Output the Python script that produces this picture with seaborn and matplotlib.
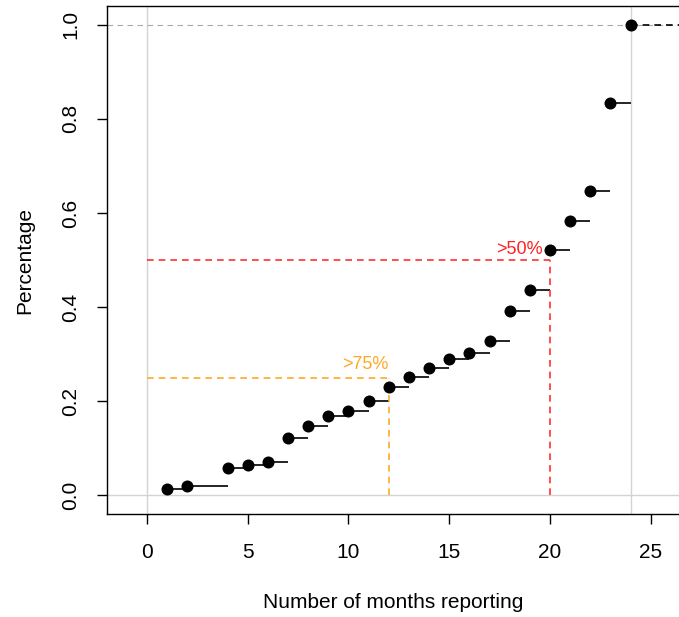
import numpy as np
import pandas as pd
import matplotlib
matplotlib.use('Agg')
import matplotlib.pyplot as plt
import seaborn as sns

# data
months = [1, 2, 4, 5, 6, 7, 8, 9, 10, 11, 12, 13, 14, 15, 16, 17, 18, 19, 20, 21, 22, 23, 24]
percentage = [0.013, 0.019, 0.057, 0.064, 0.070, 0.121, 0.147, 0.168, 0.179, 0.200,
              0.230, 0.251, 0.270, 0.289, 0.302, 0.328, 0.391, 0.436, 0.521, 0.583,
              0.647, 0.834, 1.000]
x_ticks = [0, 5, 10, 15, 20, 25]
y_ticks = [0.0, 0.2, 0.4, 0.6, 0.8, 1.0]

df = pd.DataFrame({'months': months, 'pct': percentage})

sns.set_style('white')
plt.rcParams['font.family'] = ['Liberation Sans', 'DejaVu Sans']
plt.rcParams['text.color'] = 'black'
plt.rcParams['axes.labelcolor'] = 'black'
plt.rcParams['xtick.color'] = 'black'
plt.rcParams['ytick.color'] = 'black'

fig = plt.figure(figsize=(6.79, 6.17), dpi=100)
ax = fig.add_axes([107 / 679, 1 - 514 / 617, 1 - 107 / 679, 508 / 617])

# reference lines
ax.axvline(0, color='lightgray', lw=1, zorder=0)
ax.axvline(24, color='lightgray', lw=1, zorder=0)
ax.axhline(0, color='lightgray', lw=1, zorder=0)
ax.axhline(1, color='darkgray', lw=0.8, ls=(0, (5, 4)), zorder=0)

# step segments
x_next = months[1:] + [27]
ax.hlines(percentage[:-1], months[:-1], x_next[:-1], color='black', lw=1.2, zorder=2)
ax.hlines(percentage[-1], months[-1], x_next[-1], color='black', lw=1.2,
          linestyles=(0, (4, 3)), zorder=2)

sns.scatterplot(data=df, x='months', y='pct', ax=ax, color='black', s=75,
                edgecolor='black', linewidth=0, zorder=3, legend=False)

# threshold lines
ax.plot([0, 20], [0.5, 0.5], color='#FF3030', ls=(0, (4, 3)), lw=1.2)
ax.plot([20, 20], [0, 0.5], color='#FF3030', ls=(0, (4, 3)), lw=1.2)
ax.plot([0, 12], [0.25, 0.25], color='#FFA826', ls=(0, (4, 3)), lw=1.2)
ax.plot([12, 12], [0, 0.25], color='#FFA826', ls=(0, (4, 3)), lw=1.2)
ax.text(19.65, 0.505, '>50%', color='#FF2020', ha='right', va='bottom', fontsize=13)
ax.text(12.0, 0.26, '>75%', color='#FFA826', ha='right', va='bottom', fontsize=13)

ax.set_xlim(-1.98, 26.4)
ax.set_ylim(-0.04, 1.04)
ax.set_xticks(x_ticks)
ax.set_yticks(y_ticks)
ax.set_yticklabels([f'{v:.1f}' for v in y_ticks], rotation=90, va='center')
ax.tick_params(direction='out', length=7, width=1, color='black', labelsize=15,
               bottom=True, left=True, top=False, right=False)
ax.tick_params(axis='x', pad=14)
ax.tick_params(axis='y', pad=12)

for side in ['left', 'bottom', 'top']:
    ax.spines[side].set_color('black')
    ax.spines[side].set_linewidth(1)
ax.spines['right'].set_visible(False)

ax.set_xlabel('Number of months reporting', fontsize=15, labelpad=22)
ax.set_ylabel('Percentage', fontsize=15, labelpad=20)
ax.grid(False)

fig.savefig('out.png', dpi=100)
